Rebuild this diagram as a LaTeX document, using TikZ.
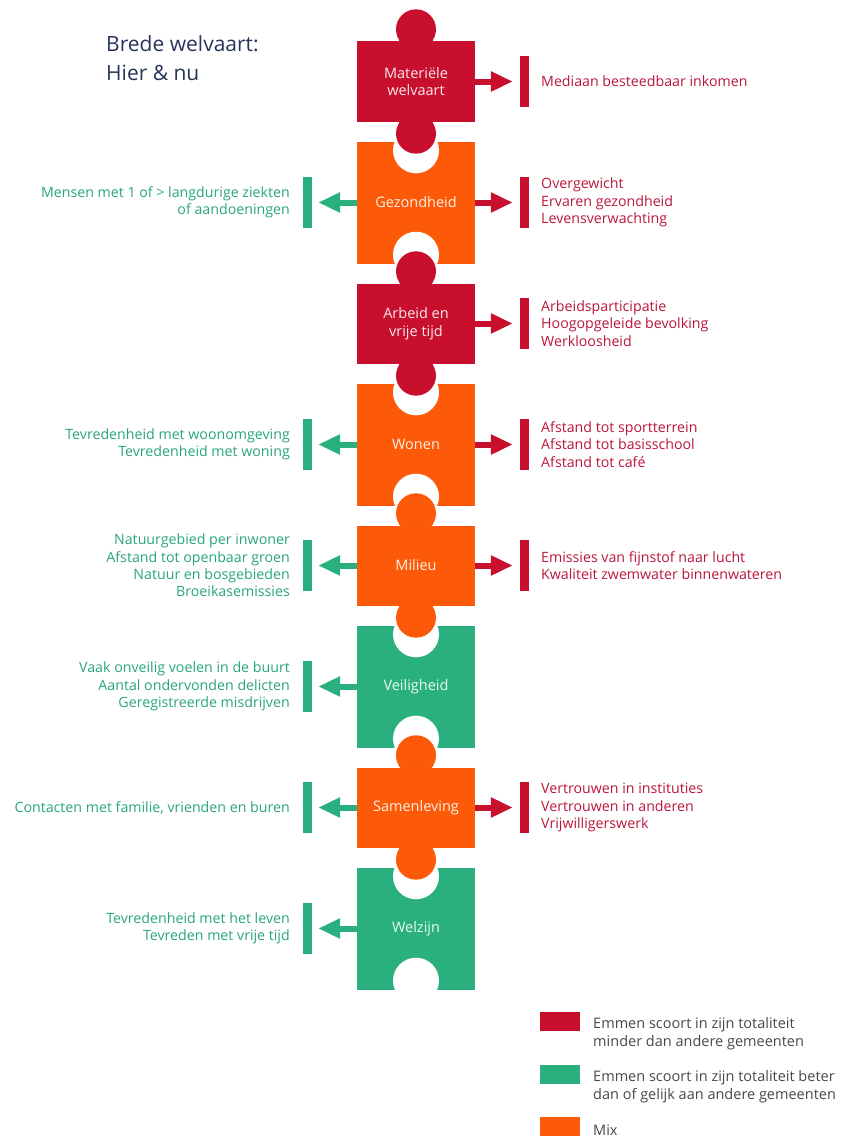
\documentclass[tikz,border=0pt]{standalone}
\usepackage{fontspec}
\setmainfont{Open Sans}
\usetikzlibrary{arrows.meta}

\definecolor{wred}{RGB}{200,16,46}
\definecolor{worange}{RGB}{252,90,8}
\definecolor{wgreen}{RGB}{42,176,127}
\definecolor{redtext}{RGB}{186,22,60}
\definecolor{greentext}{RGB}{40,166,120}
\definecolor{titleblue}{RGB}{40,52,92}
\definecolor{legendtext}{RGB}{72,72,72}

\begin{document}
\begin{tikzpicture}[x=1pt, y=-1pt,
        knobpiece/.style={rectangle, minimum width=118pt, minimum height=80pt, inner sep=0pt,
            text=white, text opacity=0.9, align=center, font=\fontsize{14.5}{17.5}\selectfont},
        holepiece/.style={knobpiece, minimum height=122pt},
        bar/.style={rectangle, minimum width=9pt, minimum height=51pt, inner sep=0pt},
        rarrow/.style={wred, line width=6pt, -{Triangle[length=22pt,width=19pt]}, shorten >=7pt},
        larrow/.style={wgreen, line width=6pt, -{Triangle[length=22pt,width=19pt]}, shorten >=6pt},
        rtext/.style={anchor=west, align=left, text=redtext, inner sep=0pt, font=\fontsize{14.2}{17.4}\selectfont},
        ltext/.style={anchor=east, align=right, text=greentext, inner sep=0pt, font=\fontsize{14.2}{17.4}\selectfont},
        legbox/.style={rectangle, minimum width=40pt, minimum height=19pt, inner sep=0pt},
        legtext/.style={anchor=west, align=left, text=legendtext, inner sep=0pt, font=\fontsize{14.5}{18}\selectfont}
    ]
            \useasboundingbox (0,0) rectangle (843,1140);

            % Title
            \node[anchor=west, align=left, text=titleblue, inner sep=0pt, font=\fontsize{21}{29}\selectfont] (title) at (106,58.5) {Brede welvaart:\\Hier \& nu};

            % Pieces
            \node[knobpiece, fill=wred] (p1) at (416,81.5) {Materiële\\welvaart};
            \node[holepiece, fill=worange] (p2) at (416,202.5) {Gezondheid};
            \node[knobpiece, fill=wred] (p3) at (416,323.5) {Arbeid en\\vrije tijd};
            \node[holepiece, fill=worange] (p4) at (416,444.5) {Wonen};
            \node[knobpiece, fill=worange] (p5) at (416,565.5) {Milieu};
            \node[holepiece, fill=wgreen] (p6) at (416,686.5) {Veiligheid};
            \node[knobpiece, fill=worange] (p7) at (416,807.5) {Samenleving};
            \node[holepiece, fill=wgreen] (p8) at (416,928.5) {Welzijn};

            % Holes
            \fill[white] ([yshift=-9pt]p2.north) circle[radius=23pt];
            \fill[white] ([yshift=9pt]p2.south) circle[radius=23pt];
            \fill[white] ([yshift=-9pt]p4.north) circle[radius=23pt];
            \fill[white] ([yshift=9pt]p4.south) circle[radius=23pt];
            \fill[white] ([yshift=-9pt]p6.north) circle[radius=23pt];
            \fill[white] ([yshift=9pt]p6.south) circle[radius=23pt];
            \fill[white] ([yshift=-9pt]p8.north) circle[radius=23pt];
            \fill[white] ([yshift=9pt]p8.south) circle[radius=23pt];

            % Knobs
            \fill[wred] ([yshift=12pt]p1.north) circle[radius=20pt];
            \fill[wred] ([xshift=-17pt]p1.north) rectangle ([xshift=17pt,yshift=12pt]p1.north);
            \fill[wred] ([yshift=-12pt]p1.south) circle[radius=20pt];
            \fill[wred] ([xshift=-17pt]p1.south) rectangle ([xshift=17pt,yshift=-12pt]p1.south);
            \fill[wred] ([yshift=12pt]p3.north) circle[radius=20pt];
            \fill[wred] ([xshift=-17pt]p3.north) rectangle ([xshift=17pt,yshift=12pt]p3.north);
            \fill[wred] ([yshift=-12pt]p3.south) circle[radius=20pt];
            \fill[wred] ([xshift=-17pt]p3.south) rectangle ([xshift=17pt,yshift=-12pt]p3.south);
            \fill[worange] ([yshift=12pt]p5.north) circle[radius=20pt];
            \fill[worange] ([xshift=-17pt]p5.north) rectangle ([xshift=17pt,yshift=12pt]p5.north);
            \fill[worange] ([yshift=-12pt]p5.south) circle[radius=20pt];
            \fill[worange] ([xshift=-17pt]p5.south) rectangle ([xshift=17pt,yshift=-12pt]p5.south);
            \fill[worange] ([yshift=12pt]p7.north) circle[radius=20pt];
            \fill[worange] ([xshift=-17pt]p7.north) rectangle ([xshift=17pt,yshift=12pt]p7.north);
            \fill[worange] ([yshift=-12pt]p7.south) circle[radius=20pt];
            \fill[worange] ([xshift=-17pt]p7.south) rectangle ([xshift=17pt,yshift=-12pt]p7.south);

            % Right side
            \node[bar, fill=wred] (r1) at (524.5,81.5) {};
            \node[bar, fill=wred] (r2) at (524.5,202.5) {};
            \node[bar, fill=wred] (r3) at (524.5,323.5) {};
            \node[bar, fill=wred] (r4) at (524.5,444.5) {};
            \node[bar, fill=wred] (r5) at (524.5,565.5) {};
            \node[bar, fill=wred] (r7) at (524.5,807.5) {};

            \node[rtext] (rt1) at (541,81.5) {Mediaan besteedbaar inkomen};
            \node[rtext] (rt2) at (541,202.5) {Overgewicht\\Ervaren gezondheid\\Levensverwachting};
            \node[rtext] (rt3) at (541,323.5) {Arbeidsparticipatie\\Hoogopgeleide bevolking\\Werkloosheid};
            \node[rtext] (rt4) at (541,444.5) {Afstand tot sportterrein\\Afstand tot basisschool\\Afstand tot café};
            \node[rtext] (rt5) at (541,565.5) {Emissies van fijnstof naar lucht\\Kwaliteit zwemwater binnenwateren};
            \node[rtext] (rt7) at (541,807.5) {Vertrouwen in instituties\\Vertrouwen in anderen\\Vrijwilligerswerk};

            \draw[rarrow] (p1.east) -- (r1.west);
            \draw[rarrow] (p2.east) -- (r2.west);
            \draw[rarrow] (p3.east) -- (r3.west);
            \draw[rarrow] (p4.east) -- (r4.west);
            \draw[rarrow] (p5.east) -- (r5.west);
            \draw[rarrow] (p7.east) -- (r7.west);

            % Left side
            \node[bar, fill=wgreen] (l2) at (307.5,202.5) {};
            \node[bar, fill=wgreen] (l4) at (307.5,444.5) {};
            \node[bar, fill=wgreen] (l5) at (307.5,565.5) {};
            \node[bar, fill=wgreen] (l6) at (307.5,686.5) {};
            \node[bar, fill=wgreen] (l7) at (307.5,807.5) {};
            \node[bar, fill=wgreen] (l8) at (307.5,928.5) {};

            \node[ltext] (lt2) at (290,202.5) {Mensen met 1 of > langdurige ziekten\\of aandoeningen};
            \node[ltext] (lt4) at (290,444.5) {Tevredenheid met woonomgeving\\Tevredenheid met woning};
            \node[ltext] (lt5) at (290,565.5) {Natuurgebied per inwoner\\Afstand tot openbaar groen\\Natuur en bosgebieden\\Broeikasemissies};
            \node[ltext] (lt6) at (290,686.5) {Vaak onveilig voelen in de buurt\\Aantal ondervonden delicten\\Geregistreerde misdrijven};
            \node[ltext] (lt7) at (290,807.5) {Contacten met familie, vrienden en buren};
            \node[ltext] (lt8) at (290,928.5) {Tevredenheid met het leven\\Tevreden met vrije tijd};

            \draw[larrow] (p2.west) -- (l2.east);
            \draw[larrow] (p4.west) -- (l4.east);
            \draw[larrow] (p5.west) -- (l5.east);
            \draw[larrow] (p6.west) -- (l6.east);
            \draw[larrow] (p7.west) -- (l7.east);
            \draw[larrow] (p8.west) -- (l8.east);

            % Legend
            \node[legbox, fill=wred] (lg1) at (560,1021.5) {};
            \node[legbox, fill=wgreen] (lg2) at (560,1074) {};
            \node[legbox, fill=worange] (lg3) at (560,1126) {};
            \node[legtext] (lgt1) at (593,1034) {Emmen scoort in zijn totaliteit\\minder dan andere gemeenten};
            \node[legtext] (lgt2) at (593,1087) {Emmen scoort in zijn totaliteit beter\\dan of gelijk aan andere gemeenten};
            \node[legtext] (lgt3) at (593,1130) {Mix};

        \end{tikzpicture}
\end{document}
